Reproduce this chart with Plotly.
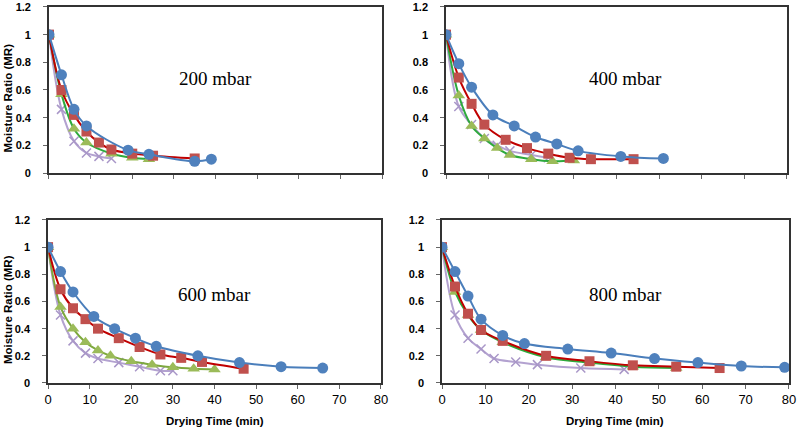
import plotly.graph_objects as go

# 200 mbar
t200_blue = [0, 3, 6, 9, 19, 24, 35, 39]
mr200_blue = [1.0, 0.71, 0.46, 0.34, 0.165, 0.135, 0.085, 0.10]
t200_red = [0, 3, 6, 9, 12, 15, 20, 25, 35]
mr200_red = [1.0, 0.60, 0.42, 0.30, 0.22, 0.17, 0.14, 0.125, 0.105]
t200_green = [0, 3, 6, 9, 15, 20, 24]
mr200_green = [1.0, 0.57, 0.32, 0.22, 0.14, 0.11, 0.10]
t200_purple = [0, 3, 6, 9, 12, 15]
mr200_purple = [1.0, 0.46, 0.23, 0.145, 0.12, 0.105]

# 400 mbar
t400_blue = [0, 3, 6, 11, 16, 21, 26, 31, 41, 51]
mr400_blue = [1.0, 0.79, 0.62, 0.42, 0.34, 0.26, 0.21, 0.16, 0.12, 0.105]
t400_red = [0, 3, 6, 9, 14, 19, 24, 29, 34, 44]
mr400_red = [1.0, 0.69, 0.50, 0.35, 0.24, 0.18, 0.14, 0.11, 0.10, 0.10]
t400_green = [0, 3, 6, 9, 12, 15, 20, 25, 30]
mr400_green = [1.0, 0.56, 0.34, 0.25, 0.18, 0.13, 0.10, 0.085, 0.09]
t400_purple = [0, 3, 6, 9, 12, 15, 20, 24]
mr400_purple = [1.0, 0.48, 0.35, 0.25, 0.20, 0.16, 0.13, 0.11]

# 600 mbar
t600_blue = [0, 3, 6, 11, 16, 21, 26, 36, 46, 56, 66]
mr600_blue = [1.0, 0.82, 0.67, 0.49, 0.40, 0.33, 0.27, 0.20, 0.15, 0.12, 0.11]
t600_red = [0, 3, 6, 9, 12, 17, 22, 27, 32, 37, 47]
mr600_red = [1.0, 0.69, 0.55, 0.47, 0.40, 0.33, 0.265, 0.21, 0.185, 0.155, 0.105]
t600_green = [0, 3, 6, 9, 12, 15, 20, 25, 30, 35, 40]
mr600_green = [1.0, 0.56, 0.40, 0.30, 0.24, 0.20, 0.16, 0.135, 0.115, 0.105, 0.10]
t600_purple = [0, 3, 6, 9, 12, 17, 22, 27, 30]
mr600_purple = [1.0, 0.50, 0.31, 0.22, 0.18, 0.15, 0.12, 0.09, 0.09]

# 800 mbar
t800_blue = [0, 3, 6, 9, 14, 19, 29, 39, 49, 59, 69, 79]
mr800_blue = [1.0, 0.82, 0.64, 0.47, 0.35, 0.29, 0.25, 0.22, 0.18, 0.15, 0.125, 0.115]
t800_red = [0, 3, 6, 9, 14, 24, 34, 44, 54, 64]
mr800_red = [1.0, 0.71, 0.51, 0.39, 0.31, 0.20, 0.16, 0.13, 0.12, 0.11]
t800_green = [0, 3, 6, 9, 14, 24, 34, 44, 54]
mr800_green = [1.0, 0.67, 0.50, 0.39, 0.30, 0.19, 0.15, 0.12, 0.11]
t800_purple = [0, 3, 6, 9, 12, 17, 22, 32, 42]
mr800_purple = [1.0, 0.50, 0.33, 0.25, 0.18, 0.155, 0.135, 0.11, 0.10]

panel_labels = ['200 mbar', '400 mbar', '600 mbar', '800 mbar']
x_ticks = [0, 10, 20, 30, 40, 50, 60, 70, 80]
y_ticks = [0, 0.2, 0.4, 0.6, 0.8, 1, 1.2]
y_ticktext = ['0', '0.2', '0.4', '0.6', '0.8', '1', '1.2']

panels = [
    [(t200_blue, mr200_blue), (t200_red, mr200_red), (t200_green, mr200_green), (t200_purple, mr200_purple)],
    [(t400_blue, mr400_blue), (t400_red, mr400_red), (t400_green, mr400_green), (t400_purple, mr400_purple)],
    [(t600_blue, mr600_blue), (t600_red, mr600_red), (t600_green, mr600_green), (t600_purple, mr600_purple)],
    [(t800_blue, mr800_blue), (t800_red, mr800_red), (t800_green, mr800_green), (t800_purple, mr800_purple)],
]

# marker / line styles per series (blue, red, green, purple)
styles = [
    dict(marker=dict(symbol='circle', size=11, color='#4F81BD'), line=dict(color='#4A7EBB', width=2)),
    dict(marker=dict(symbol='square', size=10, color='#C0504D'), line=dict(color='#C00000', width=2)),
    dict(marker=dict(symbol='triangle-up', size=11, color='#9BBB59'), line=dict(color='#2DAA3C', width=2)),
    dict(marker=dict(symbol='x-thin-open', size=9, color='#A997C8', line=dict(color='#A997C8', width=1.5)),
         line=dict(color='#B3A2D0', width=2)),
]
# the 600 mbar panel uses an olive green line instead of the bright one
green_line_colors = ['#2DAA3C', '#2DAA3C', '#7DA83E', '#2DAA3C']

# panel geometry in paper coordinates
x_domains = [[0.0614, 0.4787], [0.5589, 0.9862], [0.0602, 0.4774], [0.5539, 0.9887]]
y_domains = [[0.5986, 0.9838], [0.5986, 0.9838], [0.1114, 0.4896], [0.1114, 0.4896]]
label_pos = [(40, 0.68), (42.2, 0.68), (40, 0.648), (42.4, 0.648)]

fig = go.Figure()

for p, series in enumerate(panels):
    xa = 'x' if p == 0 else f'x{p + 1}'
    ya = 'y' if p == 0 else f'y{p + 1}'
    # purple first so blue ends on top
    for s in [3, 2, 1, 0]:
        t, mr = series[s]
        st = styles[s]
        line = dict(st['line'])
        if s == 2:
            line['color'] = green_line_colors[p]
        fig.add_trace(go.Scatter(
            x=t, y=mr, mode='lines+markers', xaxis=xa, yaxis=ya,
            line=dict(shape='spline', smoothing=1.0, **line),
            marker=st['marker'], showlegend=False,
        ))
    fig.add_annotation(
        x=label_pos[p][0], y=label_pos[p][1], xref=xa, yref=ya,
        text=panel_labels[p], showarrow=False,
        font=dict(family='Liberation Serif', size=19, color='black'),
    )

# axis titles as paper annotations (left column / bottom row only)
for p in [0, 2]:
    y_mid = sum(y_domains[p]) / 2 - 0.02
    fig.add_annotation(
        x=8 / 798, y=y_mid, xref='paper', yref='paper', textangle=-90,
        xanchor='center', yanchor='middle',
        text='Moisture Ratio (MR)', showarrow=False,
        font=dict(size=11.5, weight='bold', color='black'),
    )
for p in [2, 3]:
    fig.add_annotation(
        x=sum(x_domains[p]) / 2, y=1 - 421 / 431, xref='paper', yref='paper',
        xanchor='center', yanchor='middle',
        text='Drying Time (min)', showarrow=False,
        font=dict(size=11.5, weight='bold', color='black'),
    )

axis_common = dict(
    showgrid=False, zeroline=False, automargin=False,
    showline=True, linecolor='#333333', linewidth=1.6, mirror=True,
    ticks='outside', ticklen=4, tickcolor='#666666',
)
layout = dict(
    width=798, height=431,
    margin=dict(l=0, r=0, t=0, b=0),
    paper_bgcolor='white', plot_bgcolor='white',
    font=dict(family='Liberation Sans', color='black'),
)
for p in range(4):
    xkey = 'xaxis' if p == 0 else f'xaxis{p + 1}'
    ykey = 'yaxis' if p == 0 else f'yaxis{p + 1}'
    yanchor = 'y' if p == 0 else f'y{p + 1}'
    xanchor = 'x' if p == 0 else f'x{p + 1}'
    layout[xkey] = dict(
        axis_common, range=[0, 80], domain=x_domains[p], anchor=yanchor,
        tickvals=x_ticks, showticklabels=p >= 2,
        tickfont=dict(size=13, color='black'),
    )
    layout[ykey] = dict(
        axis_common, range=[0, 1.2], domain=y_domains[p], anchor=xanchor,
        tickvals=y_ticks, ticktext=y_ticktext, ticklabelstandoff=10,
        tickfont=dict(size=11, color='black', weight='bold'),
    )

fig.update_layout(**layout)
# the page body has a default 8px margin; drop it so the figure fills the window
fig.write_html("out.html", config={'displayModeBar': False},
               post_script="document.body.style.margin='0px';")
